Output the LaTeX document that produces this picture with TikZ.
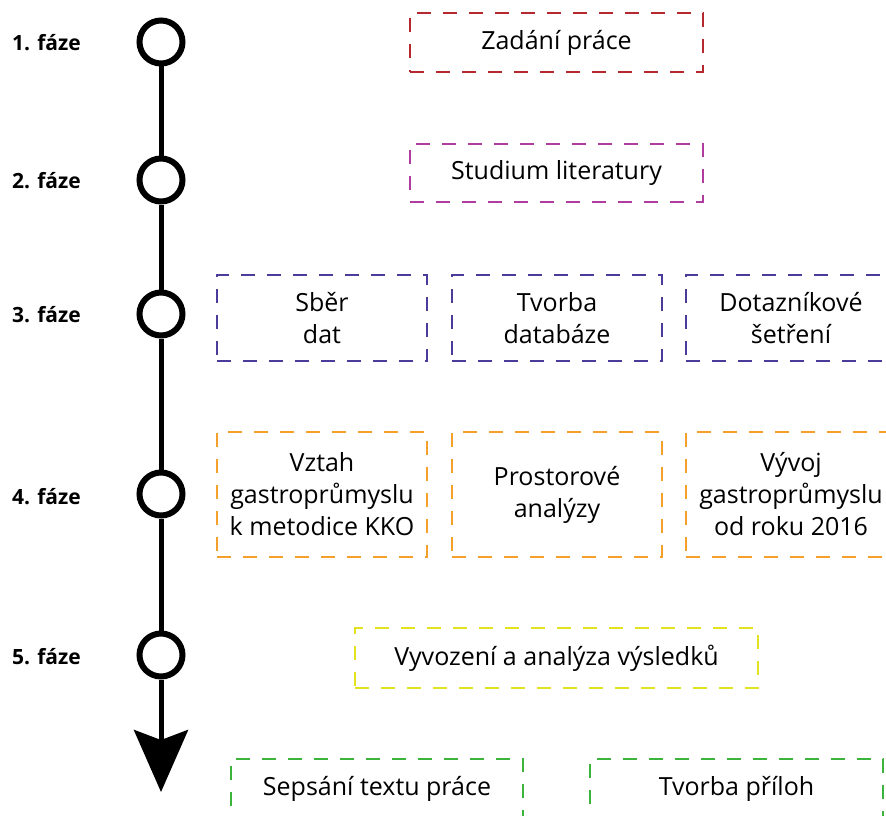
\documentclass[tikz,border=0pt]{standalone}
\usepackage{fontspec}
\setmainfont{Open Sans}
\usetikzlibrary{arrows.meta}
\definecolor{cred}{HTML}{B5282E}
\definecolor{cmag}{HTML}{B03CA0}
\definecolor{cblue}{HTML}{4A3C9A}
\definecolor{corange}{HTML}{F5A02A}
\definecolor{cyellow}{HTML}{E2E21E}
\definecolor{cgreen}{HTML}{3CB43C}
\begin{document}
\begin{tikzpicture}[x=1pt,y=-1pt,
  phase/.style={circle, draw=black, line width=6pt, fill=white, minimum size=43pt, inner sep=0pt},
  plabel/.style={anchor=east, inner sep=0pt, font=\bfseries\fontsize{21}{24}\selectfont},
  task/.style={draw, dash pattern=on 14pt off 12pt, line width=2pt, align=center, inner sep=0pt, font=\fontsize{25}{32}\selectfont},
  axis/.style={line width=5pt, draw=black}
]
\useasboundingbox (0,0) rectangle (886,816);

% timeline
\node[phase] (c1) at (161,42) {};
\node[phase] (c2) at (161,180) {};
\node[phase] (c3) at (161,314) {};
\node[phase] (c4) at (161,494) {};
\node[phase] (c5) at (161,655) {};
\coordinate (tip) at (161,792);
\draw[axis] (c1) -- (c2);
\draw[axis] (c2) -- (c3);
\draw[axis] (c3) -- (c4);
\draw[axis] (c4) -- (c5);
\draw[axis, -{Stealth[length=62pt,width=54pt,inset=10pt]}] (c5) -- (tip);

% phase labels
\node[plabel] (l1) at (81,43) {1. fáze};
\node[plabel] (l2) at (81,181) {2. fáze};
\node[plabel] (l3) at (81,315) {3. fáze};
\node[plabel] (l4) at (81,497) {4. fáze};
\node[plabel] (l5) at (81,657) {5. fáze};

% tasks
\node[task, draw=cred, minimum width=293pt, minimum height=59pt] (t1) at (556.5,42.5) {Zadání práce};
\node[task, draw=cmag, minimum width=293pt, minimum height=58pt] (t2) at (556.5,173) {Studium literatury};
\node[task, draw=cblue, minimum width=210pt, minimum height=86pt] (t3a) at (322,318) {Sběr\\dat};
\node[task, draw=cblue, minimum width=210pt, minimum height=86pt] (t3b) at (557,318) {Tvorba\\databáze};
\node[task, draw=cblue, minimum width=210pt, minimum height=86pt] (t3c) at (791,318) {Dotazníkové\\šetření};
\node[task, draw=corange, minimum width=210pt, minimum height=125pt] (t4a) at (322,494.5) {Vztah\\gastroprůmyslu\\k metodice KKO};
\node[task, draw=corange, minimum width=210pt, minimum height=125pt] (t4b) at (557,494.5) {Prostorové\\analýzy};
\node[task, draw=corange, minimum width=210pt, minimum height=125pt] (t4c) at (791,494.5) {Vývoj\\gastroprůmyslu\\od roku 2016};
\node[task, draw=cyellow, minimum width=403pt, minimum height=60pt] (t5) at (556.5,658) {Vyvození a analýza výsledků};
\node[task, draw=cgreen, minimum width=292pt, minimum height=59pt] (t6a) at (377,788.5) {Sepsání textu práce};
\node[task, draw=cgreen, minimum width=293pt, minimum height=59pt] (t6b) at (736.5,788.5) {Tvorba příloh};
\end{tikzpicture}
\end{document}
